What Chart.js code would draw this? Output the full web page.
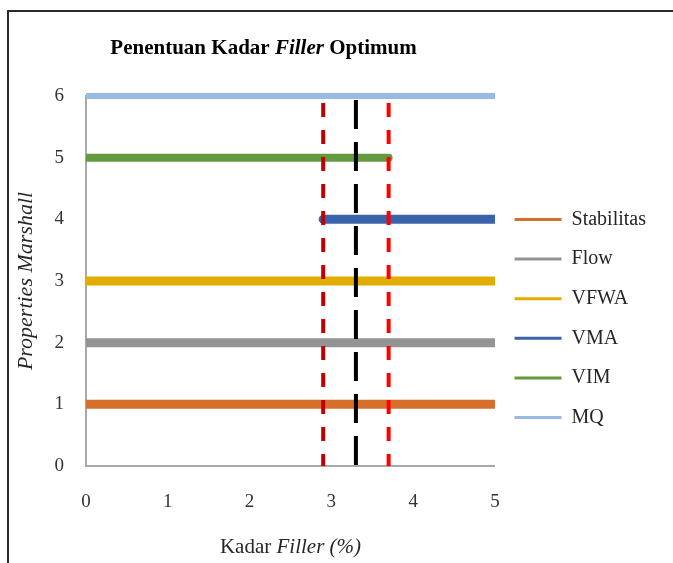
<!DOCTYPE html>
<html>
<head>
<meta charset="utf-8">
<script src="https://cdn.jsdelivr.net/npm/chart.js@4"></script>
<style>
  html, body { margin: 0; padding: 0; background: #fff; overflow: hidden; }
  #wrap { position: relative; width: 673px; height: 563px; }
  #wrap canvas { position: absolute; left: 0; top: 0; }
  #frame { position: absolute; left: 7px; top: 10px; width: 720px; height: 620px;
           border-left: 2px solid #2b2b2b; border-top: 2px solid #2b2b2b; pointer-events: none; }
</style>
</head>
<body>
<div id="wrap">
  <canvas id="chart" width="673" height="563"></canvas>
  <div id="frame"></div>
</div>
<script>
// Marshall properties: each one is a horizontal band over the filler range it satisfies
const seriesNames  = ['Stabilitas', 'Flow', 'VFWA', 'VMA', 'VIM', 'MQ'];
const seriesLevels = [1, 2, 3, 4, 5, 6];
const rangeFrom    = [0, 0, 0, 2.9, 0, 0];
const rangeTo      = [5, 5, 5, 5, 3.7, 5];
const seriesColors = ['#D66F2C', '#949494', '#E2AC00', '#3A63AB', '#639A3F', '#97BAE3'];
const seriesWidths = [9, 9, 9, 9, 8, 6];

// Filler content limits and the optimum
const lowerLimit = 2.9;
const upperLimit = 3.7;
const optimumFiller = 3.3;

// Axis ranges
const xMin = 0, xMax = 5, xStep = 1;
const yMin = 0, yMax = 6, yStep = 1;

const SERIF = '"Liberation Serif", "Times New Roman", serif';

const bandSets = seriesNames.map((name, i) => ({
  label: name,
  data: [{ x: rangeFrom[i], y: seriesLevels[i] }, { x: rangeTo[i], y: seriesLevels[i] }],
  borderColor: seriesColors[i],
  backgroundColor: seriesColors[i],
  borderWidth: seriesWidths[i],
  borderCapStyle: 'round',
  pointRadius: 0,
  tension: 0,
  clip: { left: 0, right: 0, top: 8, bottom: 8 },
  order: 1
}));

function markerLine(x, color, dash, offset) {
  return {
    label: '',
    isMarker: true,
    data: [{ x: x, y: yMax }, { x: x, y: yMin }],
    borderColor: color,
    backgroundColor: color,
    borderWidth: 4,
    borderDash: dash,
    borderDashOffset: offset,
    pointRadius: 0,
    tension: 0,
    clip: { left: 8, right: 8, top: 8, bottom: 0 },
    order: 0
  };
}

const markerSets = [
  markerLine(lowerLimit, '#C00000', [14, 13], 20),
  markerLine(upperLimit, '#FF0000', [14, 13], 20),
  markerLine(optimumFiller, '#000000', [29, 13], 38)
];

// Title and x-axis title mix upright and italic runs, so they are drawn as text runs
function drawRuns(ctx, runs, cx, baseline, color) {
  ctx.save();
  ctx.fillStyle = color;
  ctx.textBaseline = 'alphabetic';
  ctx.textAlign = 'left';
  let total = 0;
  runs.forEach(r => { ctx.font = r.font; total += ctx.measureText(r.text).width; });
  let x = cx - total / 2;
  runs.forEach(r => { ctx.font = r.font; ctx.fillText(r.text, x, baseline); x += ctx.measureText(r.text).width; });
  ctx.restore();
}

const titleCenterX = 263.5;
const richTitles = {
  id: 'richTitles',
  afterDraw(chart) {
    const ctx = chart.ctx;
    const area = chart.chartArea;
    drawRuns(ctx, [
      { text: 'Penentuan Kadar ', font: 'bold 21px ' + SERIF },
      { text: 'Filler', font: 'italic bold 21px ' + SERIF },
      { text: ' Optimum', font: 'bold 21px ' + SERIF }
    ], titleCenterX, 54, '#000000');
    drawRuns(ctx, [
      { text: 'Kadar ', font: '21px ' + SERIF },
      { text: 'Filler (%)', font: 'italic 21px ' + SERIF }
    ], (area.left + area.right) / 2, 553, '#262626');
  }
};

new Chart(document.getElementById('chart'), {
  type: 'line',
  data: { datasets: bandSets.concat(markerSets) },
  options: {
    responsive: false,
    animation: false,
    devicePixelRatio: 1,
    layout: { padding: { top: 96, left: 0, right: 17, bottom: 22 } },
    plugins: {
      title: { display: false },
      tooltip: { enabled: false },
      legend: {
        position: 'right',
        align: 'center',
        labels: {
          boxWidth: 47,
          boxHeight: 3,
          padding: 19.6,
          color: '#262626',
          font: { family: SERIF, size: 20 },
          filter: (item, data) => !data.datasets[item.datasetIndex].isMarker,
          generateLabels: (chart) => Chart.defaults.plugins.legend.labels.generateLabels(chart)
            .map(l => Object.assign(l, { lineWidth: 0, fillStyle: seriesColors[l.datasetIndex] }))
        }
      }
    },
    scales: {
      x: {
        type: 'linear',
        min: xMin, max: xMax,
        ticks: { stepSize: xStep, padding: 25, color: '#333333', font: { family: SERIF, size: 19 } },
        grid: { display: false, drawTicks: false },
        border: { display: true, color: '#A9A9A9', width: 2 },
        afterFit: (s) => { s.height = 75; }
      },
      y: {
        type: 'linear',
        min: yMin, max: yMax,
        ticks: { stepSize: yStep, padding: 22, color: '#333333', font: { family: SERIF, size: 19 } },
        grid: { display: false, drawTicks: false },
        border: { display: true, color: '#A9A9A9', width: 2 },
        title: {
          display: true,
          text: 'Properties Marshall',
          color: '#262626',
          font: { family: SERIF, size: 22, style: 'italic' },
          padding: { top: 13, bottom: 0 }
        },
        afterFit: (s) => { s.width = 86; }
      }
    }
  },
  plugins: [richTitles]
});
</script>
</body>
</html>
